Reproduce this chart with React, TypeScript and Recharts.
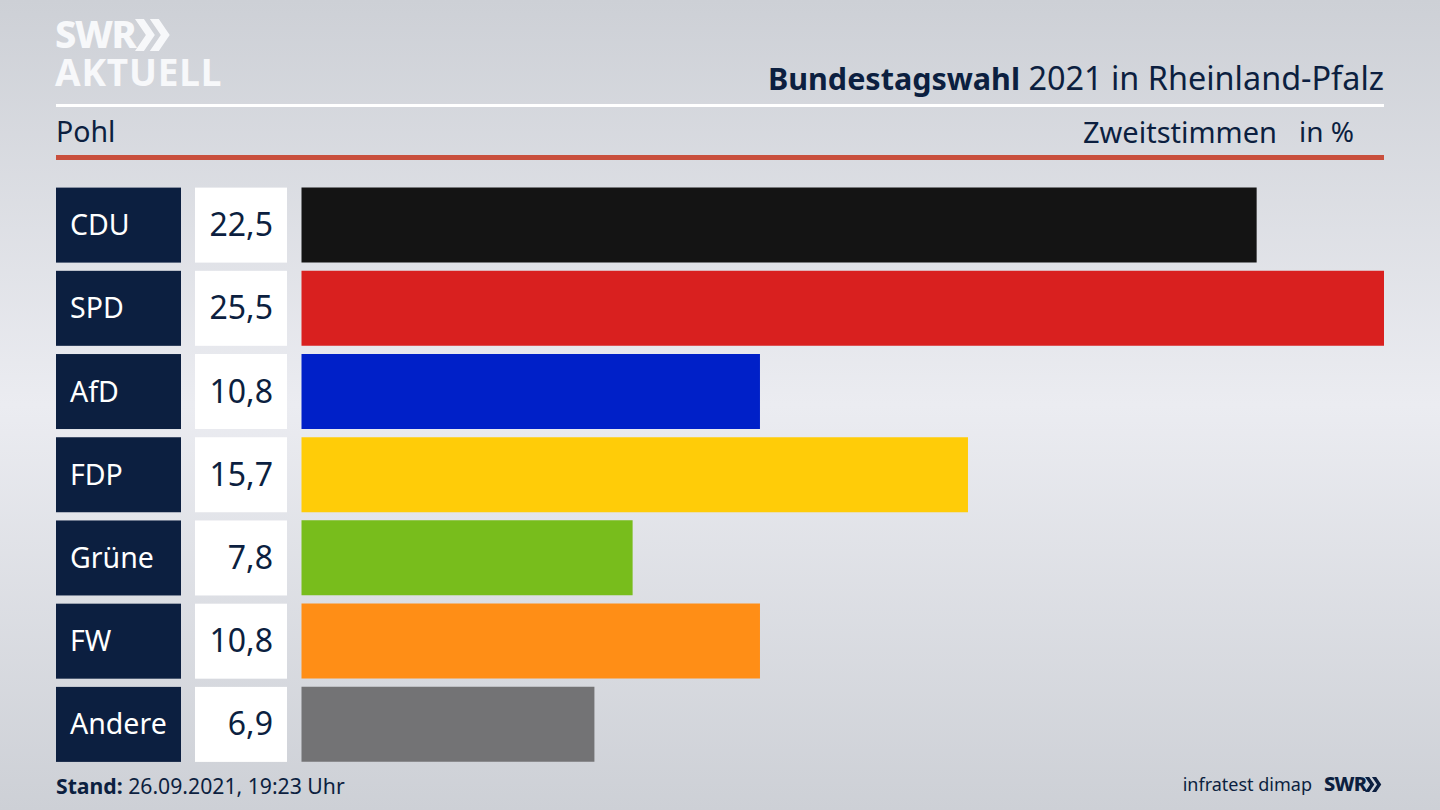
import { Bar, BarChart, Cell, XAxis, YAxis } from 'recharts'

const parties = ['CDU', 'SPD', 'AfD', 'FDP', 'Grüne', 'FW', 'Andere']
const shares = [22.5, 25.5, 10.8, 15.7, 7.8, 10.8, 6.9]
const partyColors = ['#141414', '#d9201f', '#0020c8', '#ffcc08', '#78bd1c', '#ff8e16', '#737375']

const chartData = parties.map((name, i) => ({ name, share: shares[i] }))

const NAVY = '#0c1f40'
const FONT = '"Noto Sans", sans-serif'

// the navy party box and the white value box sit left of each bar
function RowLabel({ y, payload, index }: any) {
  const value = shares[index].toFixed(1).replace('.', ',')
  return (
    <g>
      <rect x={56} y={y - 37.5} width={125} height={75} fill={NAVY} />
      <rect x={195} y={y - 37.5} width={92} height={75} fill="#ffffff" />
      <text x={70} y={y + 10} fontSize={28.5} fontFamily={FONT} fill="#ffffff">
        {payload.value}
      </text>
      <text x={273} y={y + 11} textAnchor="end" fontSize={32} fontFamily={FONT} fill={NAVY}>
        {value}
      </text>
    </g>
  )
}

function Chevrons({ x, y, size, fill }: { x: number; y: number; size: number; fill: string }) {
  const w = size * 0.62
  const points = (dx: number) =>
    `${dx},0 ${dx + w * 0.45},0 ${dx + w},${size / 2} ${dx + w * 0.45},${size} ${dx},${size} ${dx + w * 0.55},${size / 2}`
  return (
    <svg style={{ position: 'absolute', left: x, top: y }} width={size * 1.2} height={size}>
      <polygon points={points(0)} fill={fill} />
      <polygon points={points(w * 0.75)} fill={fill} />
    </svg>
  )
}

const textAt = (left: number, top: number, size: number, color: string): React.CSSProperties => ({
  position: 'absolute',
  left,
  top,
  fontSize: size,
  lineHeight: 1,
  color,
  whiteSpace: 'nowrap',
})

export default function App() {
  return (
    <div
      style={{
        position: 'absolute',
        left: 0,
        top: 0,
        width: 1440,
        height: 810,
        overflow: 'hidden',
        fontFamily: FONT,
        background: 'linear-gradient(180deg, #cdd0d6 0%, #ebecf1 50%, #cdd0d6 100%)',
      }}
    >
      <BarChart
        width={1440}
        height={810}
        layout="vertical"
        data={chartData}
        margin={{ top: 183.5, right: 56, bottom: 44, left: 56 }}
        style={{ position: 'absolute', left: 0, top: 0 }}
      >
        <XAxis type="number" domain={[0, 25.5]} hide />
        <YAxis
          type="category"
          dataKey="name"
          width={245.5}
          axisLine={false}
          tickLine={false}
          interval={0}
          tick={RowLabel}
        />
        <Bar dataKey="share" barSize={75} isAnimationActive={false}>
          {partyColors.map((color) => (
            <Cell key={color} fill={color} />
          ))}
        </Bar>
      </BarChart>

      {/* header */}
      <div style={{ ...textAt(55, 16, 38, '#f7f8fa'), fontWeight: 800, letterSpacing: -1.5, lineHeight: 0.9 }}>SWR</div>
      <Chevrons x={135} y={19} size={32} fill="#f7f8fa" />
      <div style={{ ...textAt(55, 55, 37, '#f7f8fa'), fontWeight: 700, letterSpacing: 0.8, lineHeight: 0.9 }}>AKTUELL</div>
      <div style={{ ...textAt(0, 61, 32.4, NAVY), left: 'auto', right: 56 }}>
        <b style={{ fontSize: 30.5 }}>Bundestagswahl</b> 2021 in Rheinland-Pfalz
      </div>
      <div style={{ position: 'absolute', left: 56, top: 104, width: 1328, height: 3, background: '#ffffff' }} />
      <div style={textAt(56, 117, 28.5, NAVY)}>Pohl</div>
      <div style={{ ...textAt(0, 117, 29, NAVY), left: 'auto', right: 163 }}>Zweitstimmen</div>
      <div style={{ ...textAt(0, 117, 28, NAVY), left: 'auto', right: 86 }}>in %</div>
      <div style={{ position: 'absolute', left: 56, top: 155, width: 1328, height: 5, background: '#c94f3d' }} />

      {/* footer */}
      <div style={textAt(56, 775, 21.2, NAVY)}>
        <b>Stand:</b> 26.09.2021, 19:23 Uhr
      </div>
      <div style={{ ...textAt(0, 775, 18, NAVY), left: 'auto', right: 128 }}>infratest dimap</div>
      <div style={{ ...textAt(1324, 774, 20, NAVY), fontWeight: 800, letterSpacing: -0.8 }}>SWR</div>
      <Chevrons x={1365} y={777} size={15} fill={NAVY} />
    </div>
  )
}
